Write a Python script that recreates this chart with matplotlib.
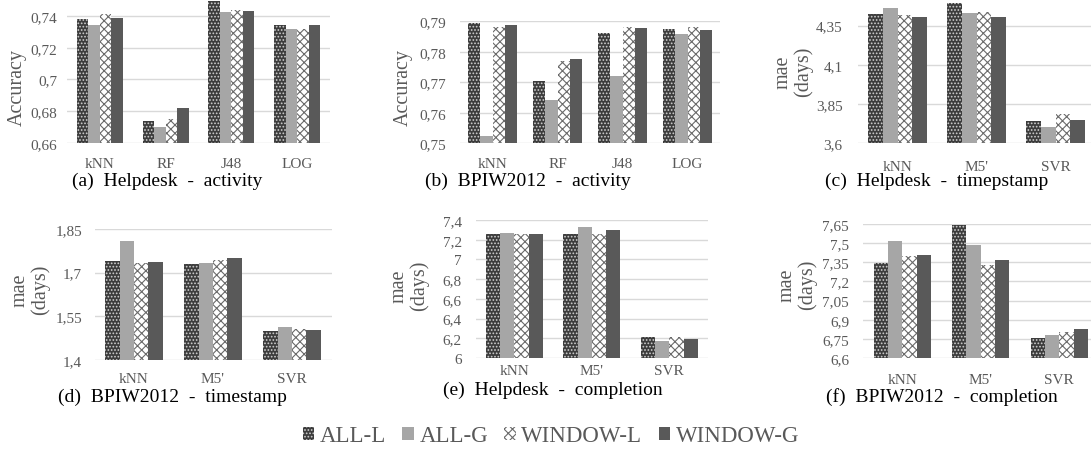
import matplotlib
matplotlib.use("Agg")
import matplotlib.pyplot as plt
from matplotlib.patches import Patch
import numpy as np

plt.rcParams['font.family'] = ['Liberation Serif', 'DejaVu Serif']
plt.rcParams['hatch.linewidth'] = 0.8

series = ['ALL-L', 'ALL-G', 'WINDOW-L', 'WINDOW-G']

cats_cls = ['kNN', 'RF', 'J48', 'LOG']
cats_reg = ['kNN', "M5'", 'SVR']

# (a) Helpdesk - activity
a_all_l = [0.738, 0.674, 0.7494, 0.7343]
a_all_g = [0.7343, 0.6703, 0.7427, 0.7316]
a_win_l = [0.741, 0.675, 0.7436, 0.7316]
a_win_g = [0.739, 0.682, 0.7434, 0.7343]

# (b) BPIW2012 - activity
b_all_l = [0.7893, 0.7705, 0.7861, 0.7876]
b_all_g = [0.7523, 0.7642, 0.7722, 0.7860]
b_win_l = [0.7882, 0.7769, 0.7882, 0.7880]
b_win_g = [0.7889, 0.7778, 0.7879, 0.7872]

# (c) Helpdesk - timestamp
c_all_l = [4.425, 4.495, 3.743]
c_all_g = [4.463, 4.429, 3.704]
c_win_l = [4.418, 4.440, 3.785]
c_win_g = [4.403, 4.403, 3.749]

# (d) BPIW2012 - timestamp
d_all_l = [1.739, 1.729, 1.501]
d_all_g = [1.808, 1.732, 1.515]
d_win_l = [1.732, 1.745, 1.507]
d_win_g = [1.736, 1.751, 1.504]

# (e) Helpdesk - completion
e_all_l = [7.255, 7.255, 6.215]
e_all_g = [7.265, 7.326, 6.171]
e_win_l = [7.258, 7.258, 6.218]
e_win_g = [7.255, 7.299, 6.195]

# (f) BPIW2012 - completion
f_all_l = [7.348, 7.642, 6.760]
f_all_g = [7.516, 7.482, 6.778]
f_win_l = [7.402, 7.327, 6.806]
f_win_g = [7.405, 7.366, 6.826]

W, H = 1091, 452
fig = plt.figure(figsize=(W / 100, H / 100), dpi=100)

styles = [
    dict(facecolor='#3c3c3c', edgecolor='#d0d0d0', hatch='.....', linewidth=0),
    dict(facecolor='#a6a6a6', edgecolor='#a6a6a6', linewidth=0),
    dict(facecolor='white', edgecolor='#6a6a6a', hatch='xxxx', linewidth=0),
    dict(facecolor='#595959', edgecolor='#595959', linewidth=0),
]

GREY = '#595959'


def fmt(v):
    s = ('%.2f' % v).rstrip('0').rstrip('.')
    return s.replace('.', ',')


def make_axes(l, t, r, b):
    return fig.add_axes([l / W, 1 - b / H, (r - l) / W, (b - t) / H])


panels = [
    dict(box=(67, 1.1, 330, 144), cats=cats_cls, data=[a_all_l, a_all_g, a_win_l, a_win_g],
         ylim=(0.66, 0.75), ticks=[0.66, 0.68, 0.70, 0.72, 0.74], bw=0.175, ypad=7, xpad=10,
         cap='(a)  Helpdesk  -  activity', capxy=(167, 181),
         ylab='Accuracy', ylabxy=(17, 88)),
    dict(box=(460, 22.3, 720, 144.3), cats=cats_cls, data=[b_all_l, b_all_g, b_win_l, b_win_g],
         ylim=(0.75, 0.79), ticks=[0.75, 0.76, 0.77, 0.78, 0.79], bw=0.19, ypad=10, xpad=10,
         cap='(b)  BPIW2012  -  activity', capxy=(528, 181),
         ylab='Accuracy', ylabxy=(403, 88)),
    dict(box=(858, 3.2, 1095, 144), cats=cats_reg, data=[c_all_l, c_all_g, c_win_l, c_win_g],
         ylim=(3.6, 4.5), ticks=[3.6, 3.85, 4.1, 4.35], bw=0.187, ypad=11, xpad=12,
         cap='(c)  Helpdesk  -  timepstamp', capxy=(937, 181),
         ylab='mae\n(days)', ylabxy=(793, 72)),
    dict(box=(94.5, 230, 331.5, 361), cats=cats_reg, data=[d_all_l, d_all_g, d_win_l, d_win_g],
         ylim=(1.4, 1.85), ticks=[1.4, 1.55, 1.7, 1.85], bw=0.183, ypad=9, xpad=9,
         cap='(d)  BPIW2012  -  timestamp', capxy=(172, 397),
         ylab='mae\n(days)', ylabxy=(30, 290)),
    dict(box=(475.75, 221, 708, 359), cats=cats_reg, data=[e_all_l, e_all_g, e_win_l, e_win_g],
         ylim=(6.0, 7.4), ticks=[6.0, 6.2, 6.4, 6.6, 6.8, 7.0, 7.2, 7.4], bw=0.184, ypad=10, xpad=4,
         cap='(e)  Helpdesk  -  completion', capxy=(553, 390),
         ylab='mae\n(days)', ylabxy=(409, 286)),
    dict(box=(863, 225, 1098.5, 359), cats=cats_reg, data=[f_all_l, f_all_g, f_win_l, f_win_g],
         ylim=(6.6, 7.65), ticks=[6.6, 6.75, 6.9, 7.05, 7.2, 7.35, 7.5, 7.65], bw=0.182, ypad=10, xpad=11,
         cap='(f)  BPIW2012  -  completion', capxy=(942, 397),
         ylab='mae\n(days)', ylabxy=(797, 285)),
]

for p in panels:
    ax = make_axes(*p['box'])
    n = len(p['cats'])
    x = np.arange(n)
    bw = p['bw']
    for i, (vals, st) in enumerate(zip(p['data'], styles)):
        ax.bar(x + (i - 1.5) * bw, vals, width=bw, zorder=2, **st)
    ax.set_xlim(-0.5, n - 0.5)
    ax.set_ylim(*p['ylim'])
    ax.set_yticks(p['ticks'])
    ax.set_yticklabels([fmt(t) for t in p['ticks']])
    ax.set_xticks(x)
    ax.set_xticklabels(p['cats'])
    for s in ax.spines.values():
        s.set_visible(False)
    ax.yaxis.grid(True, color='#d9d9d9', linewidth=1.0, zorder=0)
    ax.set_axisbelow(True)
    ax.tick_params(axis='both', length=0, colors=GREY, labelsize=11)
    ax.tick_params(axis='y', pad=p['ypad'])
    ax.tick_params(axis='x', pad=p['xpad'])
    ax.set_facecolor('none')
    fig.text(p['capxy'][0] / W, 1 - p['capxy'][1] / H, p['cap'], ha='center', va='center',
             fontsize=14, color='black')
    fig.text(p['ylabxy'][0] / W, 1 - p['ylabxy'][1] / H, p['ylab'], ha='center', va='center',
             rotation=90, fontsize=14.5, color=GREY, multialignment='center', linespacing=1.05)

handles = [Patch(**st) for st in styles]
fig.legend(handles, series, loc='center', bbox_to_anchor=(551 / W, 1 - 437 / H), ncol=4,
           frameon=False, fontsize=16.5, handlelength=0.5, handleheight=0.5,
           handletextpad=0.25, columnspacing=0.7, labelcolor=GREY, borderaxespad=0)

fig.savefig('out.png', dpi=100)
